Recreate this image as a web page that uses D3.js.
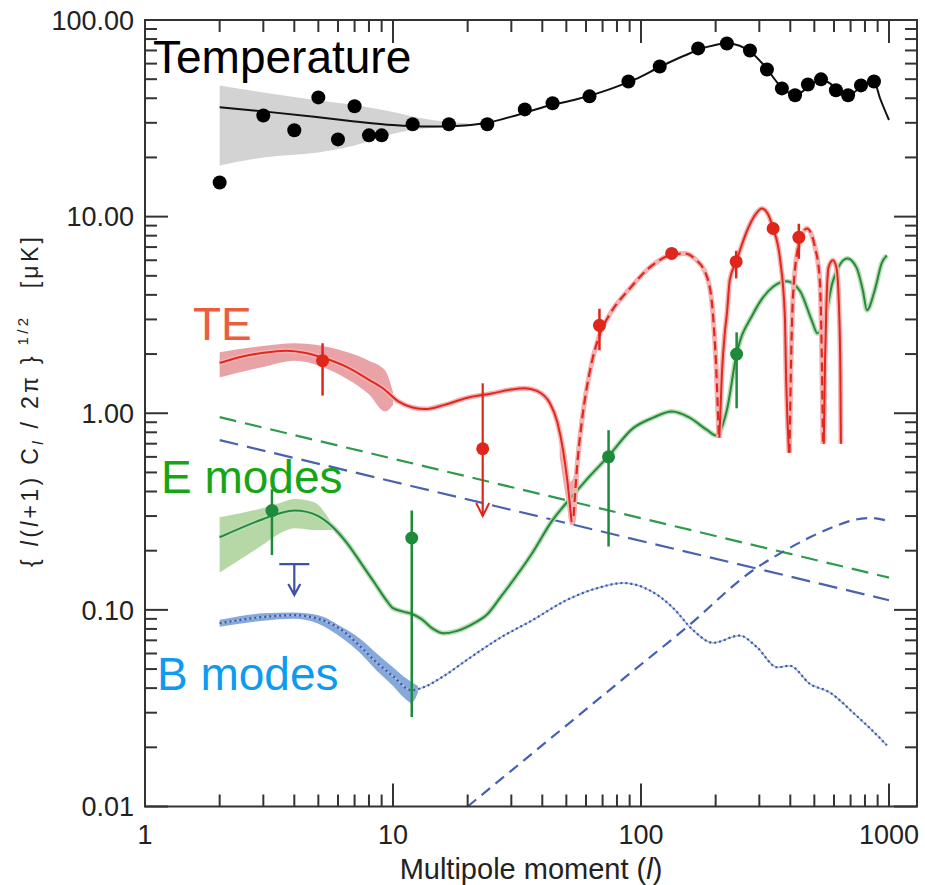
<!DOCTYPE html>
<html>
<head>
<meta charset="utf-8">
<script src="https://cdn.jsdelivr.net/npm/d3@7"></script>
<style>
body { margin: 0; background: #fff; }
text { font-family: "Liberation Sans", Arial, Helvetica, sans-serif; }
</style>
</head>
<body>
<script>
// values, [multipole l, value in uK]

// temperature
const tempPoints = [[2,14.9],[3,32.7],[4,27.5],[5,40.4],[6,24.7],[7,36.4],[8,25.9],[9,25.9],[12,29.5],[16.8,29.5],[24,29.5],
  [34,35.1],[44,37.7],[62,40.9],[89,48.7],[119,58],[170,71.7],[222,76],[275,70],[322,56],[370,44.9],[418,41.4],
  [471,47],[532,49.9],[611,43.9],[684,41.4],[771,46.5],[870,48.7]];
const tempLine = [[2,36],[3,34.3],[5,32],[7,30.5],[10,29.2],[14,28.7],[18,28.9],[24,30],[32,33],[42,36.5],[55,39.5],
  [75,44.5],[95,50],[120,58],[150,66],[185,73],[222,76],[250,74],[280,68],[320,57],[360,47],[400,42.5],[430,42.2],
  [470,45.5],[530,49.5],[580,47.5],[620,44],[690,41.5],[760,45],[830,48],[870,48.5],[920,40],[1000,31]];
const tempBand = [[2,18.2,46.5],[3,20,42.8],[5,21.2,39],[7,23,37],[10,26.4,34],[13,28,31.6],[16,28.5,30.5],[20,29.2,29.8]];

// TE, solid = positive, dashed = negative (abs value)
const teSolid1 = [[2,1.8],[2.5,1.95],[3,2.03],[3.7,2.08],[4.5,2.02],[5.2,1.92],[6.5,1.72],[8,1.48],[9.1,1.34],[10.5,1.15],
  [12,1.07],[13.5,1.05],[16,1.1],[20,1.2],[25,1.26],[30,1.32],[34,1.34],[38,1.3],[43,1.12],[46,0.9],[48.5,0.65],[50.5,0.45],[52.5,0.28]];
const teDash1 = [[53.5,0.3],[55,0.5],[58,0.95],[62,1.6],[68,2.5],[75,3.2],[90,4.3],[110,5.6],[133,6.4],[150,6.5],[165,6.1],
  [185,4.9],[195,3.2],[201,1.71],[206,0.75]];
const teSolid2 = [[207,0.75],[212,1.6],[218,2.6],[222,3.2],[228,4.75],[242,5.9],[268,8.5],[290,10.3],[307,11],[325,10.3],
  [341,8.7],[363,6.2],[380,3.2],[385,1.47],[395,0.63]];
const teDash2 = [[397,0.63],[402,1.6],[410,3.9],[433,7.2],[467,8.7],[503,7],[526,4.75],[535,2.2],[542,0.7]];
const teSolid3 = [[546,0.7],[552,1.8],[558,3.2],[570,5.5],[594,6],[614,5.5],[630,3.2],[637,1.56],[640,0.7]];
const teBand = [[2,1.52,2.04],[3,1.72,2.2],[4,1.85,2.27],[5.2,1.72,2.2],[6.5,1.5,2.05],[8,1.25,1.85],[9.3,1.02,1.65],[10,1.1,1.28]];
const teDipBand = [[47,0.6,0.85],[50,0.36,0.62],[52,0.27,0.45],[54,0.27,0.5],[56,0.45,0.85]];
const tePoints = [[5.2,1.85,1.23,2.27],[68,2.8,2.09,3.4],[133,6.5,6.2,6.8],[242,5.9,4.85,6.7],[341,8.7,8.2,9.2],[433,7.85,6.1,9.2]];
const teLimit = [[23,0.66,0.30,1.42]];

// E modes
const eLine = [[2,0.234],[3,0.29],[3.5,0.31],[4,0.32],[4.5,0.315],[5,0.3],[5.7,0.265],[6.5,0.22],[7.5,0.17],[8.5,0.135],
  [9.4,0.112],[10,0.102],[11,0.098],[12,0.095],[13,0.09],[14.5,0.08],[16,0.076],[18,0.078],[21,0.085],[24,0.095],[27,0.115],
  [36,0.19],[44,0.286],[51,0.36],[60,0.456],[73.5,0.6],[93,0.84],[112,0.95],[133,1.02],[157,0.95],[185,0.82],[201,0.77],
  [222,1.04],[243,2.0],[283,3.2],[341,4.4],[386,4.69],[437,4.2],[488,2.97],[515,2.55],[550,2.97],[594,4.7],[680,6.13],
  [740,5.5],[785,4.2],[815,3.34],[875,4.2],[935,5.8],[980,6.35]];
const eBand = [[2,0.155,0.296],[3,0.215,0.33],[3.5,0.245,0.35],[4,0.26,0.366],[4.8,0.255,0.353],[5.7,0.255,0.27]];
const ePoints = [[3.25,0.32,0.19,0.41],[11.9,0.232,0.0285,0.32],[74,0.6,0.21,0.82],[243,2.0,1.06,2.58]];
const eForeground = [[2,0.955],[1000,0.146]];

// B modes
const bLensed = [[2,0.0855],[3,0.092],[4,0.094],[5,0.09],[6.3,0.078],[7.3,0.066],[8.6,0.054],[10,0.046],[11.9,0.039],
  [13,0.04],[16,0.046],[20,0.056],[27,0.072],[36.7,0.089],[50,0.112],[68,0.13],[84.6,0.137],[108,0.126],[134,0.103],
  [162,0.079],[195,0.068],[250,0.074],[292,0.065],[355,0.051],[398,0.052],[480,0.042],[578,0.038],[717,0.030],[830,0.0253],[980,0.0205]];
const bBand = [[2,0.082,0.089],[3,0.088,0.096],[4,0.09,0.097],[5,0.085,0.094],[6.3,0.071,0.081],[7.3,0.061,0.072],
  [8.6,0.049,0.06],[10,0.041,0.051],[11,0.036,0.046],[11.9,0.0336,0.043],[12.6,0.038,0.041]];
const bRising = [[20,0.01],[40,0.0205],[80,0.042],[153,0.0817],[283,0.159],[380,0.2],[480,0.234],[600,0.265],[717,0.286],[855,0.293],[1000,0.282]];
const bForeground = [[2,0.73],[1000,0.112]];
const bLimit = [[4,0.171,0.119]];

const yTickLabels = ["0.01", "0.10", "1.00", "10.00", "100.00"];
const xTickLabels = ["1", "10", "100", "1000"];

const svg = d3.select("body").append("svg").attr("width", 925).attr("height", 885);

const x = d3.scaleLog().domain([1, 1297]).range([145, 917]);
const y = d3.scaleLog().domain([0.01, 100]).range([806.5, 20]);

const line = d3.line().x(d => x(d[0])).y(d => y(d[1])).curve(d3.curveMonotoneX);
const band = d3.area().x(d => x(d[0])).y0(d => y(d[1])).y1(d => y(d[2])).curve(d3.curveMonotoneX);
const straight = d3.line().x(d => x(d[0])).y(d => y(d[1]));

const plot = svg.append("g");

// bands first
plot.append("path").attr("d", band(tempBand)).attr("fill", "#d3d3d3");
plot.append("path").attr("d", band(teBand)).attr("fill", "#e9a3a7");
plot.append("path").attr("d", band(teDipBand)).attr("fill", "#eea9ad");
plot.append("path").attr("d", band(eBand)).attr("fill", "#b5d8a6");
plot.append("path").attr("d", band(bBand)).attr("fill", "#86a9dc");

// foreground straight dashed lines
plot.append("path").attr("d", straight(eForeground))
    .attr("fill", "none").attr("stroke", "#2f9a4c").attr("stroke-width", 2.2).attr("stroke-dasharray", "17,9");
plot.append("path").attr("d", straight(bForeground))
    .attr("fill", "none").attr("stroke", "#4a62ad").attr("stroke-width", 2.2).attr("stroke-dasharray", "19,9");

// B modes
plot.append("path").attr("d", line(bLensed))
    .attr("fill", "none").attr("stroke", "#a9badf").attr("stroke-width", 1.5);
plot.append("path").attr("d", line(bLensed))
    .attr("fill", "none").attr("stroke", "#3b58a8").attr("stroke-width", 2.2).attr("stroke-dasharray", "2,3");
plot.append("path").attr("d", line(bRising))
    .attr("fill", "none").attr("stroke", "#4460b0").attr("stroke-width", 2.2).attr("stroke-dasharray", "11,7");

// E modes
plot.append("path").attr("d", line(eLine))
    .attr("fill", "none").attr("stroke", "#b9dcb3").attr("stroke-width", 5);
plot.append("path").attr("d", line(eLine))
    .attr("fill", "none").attr("stroke", "#238a3e").attr("stroke-width", 2);

// TE, pale glow then the line
[teSolid1, teDash1, teSolid2, teDash2, teSolid3].forEach(function(seg) {
  plot.append("path").attr("d", line(seg))
      .attr("fill", "none").attr("stroke", "#f4b3b3").attr("stroke-width", 5);
});
[teSolid1, teSolid2, teSolid3].forEach(function(seg) {
  plot.append("path").attr("d", line(seg))
      .attr("fill", "none").attr("stroke", "#e2271e").attr("stroke-width", 2);
});
[teDash1, teDash2].forEach(function(seg) {
  plot.append("path").attr("d", line(seg))
      .attr("fill", "none").attr("stroke", "#e2271e").attr("stroke-width", 2.2).attr("stroke-dasharray", "9,5");
});

// temperature
plot.append("path").attr("d", line(tempLine))
    .attr("fill", "none").attr("stroke", "#111").attr("stroke-width", 2);

// error bars
function errorBars(data, color) {
  plot.selectAll(null).data(data).enter().append("line")
      .attr("x1", d => x(d[0])).attr("x2", d => x(d[0]))
      .attr("y1", d => y(d[2])).attr("y2", d => y(d[3]))
      .attr("stroke", color).attr("stroke-width", 2.5);
  plot.selectAll(null).data(data).enter().append("circle")
      .attr("cx", d => x(d[0])).attr("cy", d => y(d[1])).attr("r", 6.5)
      .attr("fill", color);
}
errorBars(tePoints, "#e0251b");
errorBars(ePoints, "#1e8a3c");

// TE upper limit with arrow
plot.selectAll(null).data(teLimit).enter().append("line")
    .attr("x1", d => x(d[0])).attr("x2", d => x(d[0]))
    .attr("y1", d => y(d[3])).attr("y2", d => y(d[2]))
    .attr("stroke", "#e0251b").attr("stroke-width", 2.2);
plot.selectAll(null).data(teLimit).enter().append("path")
    .attr("d", d => "M" + (x(d[0]) - 6.5) + "," + (y(d[2]) - 13) + "L" + x(d[0]) + "," + y(d[2]) + "L" + (x(d[0]) + 6.5) + "," + (y(d[2]) - 13))
    .attr("fill", "none").attr("stroke", "#e0251b").attr("stroke-width", 2);
plot.selectAll(null).data(teLimit).enter().append("circle")
    .attr("cx", d => x(d[0])).attr("cy", d => y(d[1])).attr("r", 6.5).attr("fill", "#e0251b");

// B upper limit
plot.selectAll(null).data(bLimit).enter().append("path")
    .attr("d", d => "M" + (x(d[0]) - 15) + "," + y(d[1]) + "H" + (x(d[0]) + 15)
      + "M" + x(d[0]) + "," + y(d[1]) + "V" + y(d[2])
      + "M" + (x(d[0]) - 6) + "," + (y(d[2]) - 11) + "L" + x(d[0]) + "," + y(d[2]) + "L" + (x(d[0]) + 6) + "," + (y(d[2]) - 11))
    .attr("fill", "none").attr("stroke", "#3b52a6").attr("stroke-width", 2.2);

// temperature points
plot.selectAll("circle.temp")
    .data(tempPoints)
    .enter().append("circle")
      .attr("class", "temp")
      .attr("cx", d => x(d[0]))
      .attr("cy", d => y(d[1]))
      .attr("r", 7)
      .attr("fill", "#000");

// frame and ticks on all four sides
const frame = svg.append("g").attr("stroke", "#333").attr("stroke-width", 2);
const isMajor = v => Math.abs(Math.log10(v) - Math.round(Math.log10(v))) < 1e-6;
const xt = x.ticks(), yt = y.ticks();

frame.append("rect").attr("x", 145).attr("y", 20).attr("width", 772).attr("height", 786.5).attr("fill", "none");
frame.selectAll(null).data(xt).enter().append("line")
    .attr("x1", d => x(d)).attr("x2", d => x(d))
    .attr("y1", 806.5).attr("y2", d => 806.5 - (isMajor(d) ? 23 : 12));
frame.selectAll(null).data(xt).enter().append("line")
    .attr("x1", d => x(d)).attr("x2", d => x(d))
    .attr("y1", 20).attr("y2", d => 20 + (isMajor(d) ? 23 : 12));
frame.selectAll(null).data(yt).enter().append("line")
    .attr("y1", d => y(d)).attr("y2", d => y(d))
    .attr("x1", 145).attr("x2", d => 145 + (isMajor(d) ? 23 : 12));
frame.selectAll(null).data(yt).enter().append("line")
    .attr("y1", d => y(d)).attr("y2", d => y(d))
    .attr("x1", 917).attr("x2", d => 917 - (isMajor(d) ? 23 : 12));

// tick labels
svg.selectAll("text.ylab")
    .data(yTickLabels)
    .enter().append("text")
      .attr("class", "ylab")
      .attr("x", 134)
      .attr("y", d => y(+d))
      .attr("dy", "0.36em")
      .attr("text-anchor", "end")
      .attr("font-size", 27)
      .attr("fill", "#222")
      .text(d => d);
svg.selectAll("text.xlab")
    .data(xTickLabels)
    .enter().append("text")
      .attr("class", "xlab")
      .attr("x", d => x(+d))
      .attr("y", 844)
      .attr("text-anchor", "middle")
      .attr("font-size", 27)
      .attr("fill", "#222")
      .text(d => d);

// axis titles
const xTitle = svg.append("text").attr("x", 531).attr("y", 879).attr("text-anchor", "middle")
    .attr("font-size", 29).attr("fill", "#222");
xTitle.append("tspan").text("Multipole moment (");
xTitle.append("tspan").attr("font-style", "italic").text("l");
xTitle.append("tspan").text(")");

const yTitle = svg.append("text").attr("transform", "translate(38,402) rotate(-90)")
    .attr("text-anchor", "middle").attr("font-size", 23).attr("fill", "#222")
    .attr("textLength", 330).attr("lengthAdjust", "spacing");
yTitle.append("tspan").text("{ ");
yTitle.append("tspan").attr("font-style", "italic").text("l");
yTitle.append("tspan").text("(");
yTitle.append("tspan").attr("font-style", "italic").text("l");
yTitle.append("tspan").text("+1) C");
yTitle.append("tspan").attr("font-style", "italic").attr("font-size", 15).attr("dy", 5).text("l");
yTitle.append("tspan").attr("dy", -5).text(" / 2\u03c0 }");
yTitle.append("tspan").attr("font-size", 15).attr("dy", -10).text(" 1/2");
yTitle.append("tspan").attr("dy", 10).text("\u2003[\u03bcK]");

// series names
const names = [["Temperature", 153, 73, "#000"], ["TE", 193, 340, "#ec5d3d"], ["E modes", 161, 493, "#16a516"], ["B modes", 157, 690, "#0d9bf2"]];
svg.selectAll("text.name")
    .data(names)
    .enter().append("text")
      .attr("class", "name")
      .attr("x", d => d[1])
      .attr("y", d => d[2])
      .attr("font-size", 46)
      .attr("fill", d => d[3])
      .text(d => d[0]);
</script>
</body>
</html>
